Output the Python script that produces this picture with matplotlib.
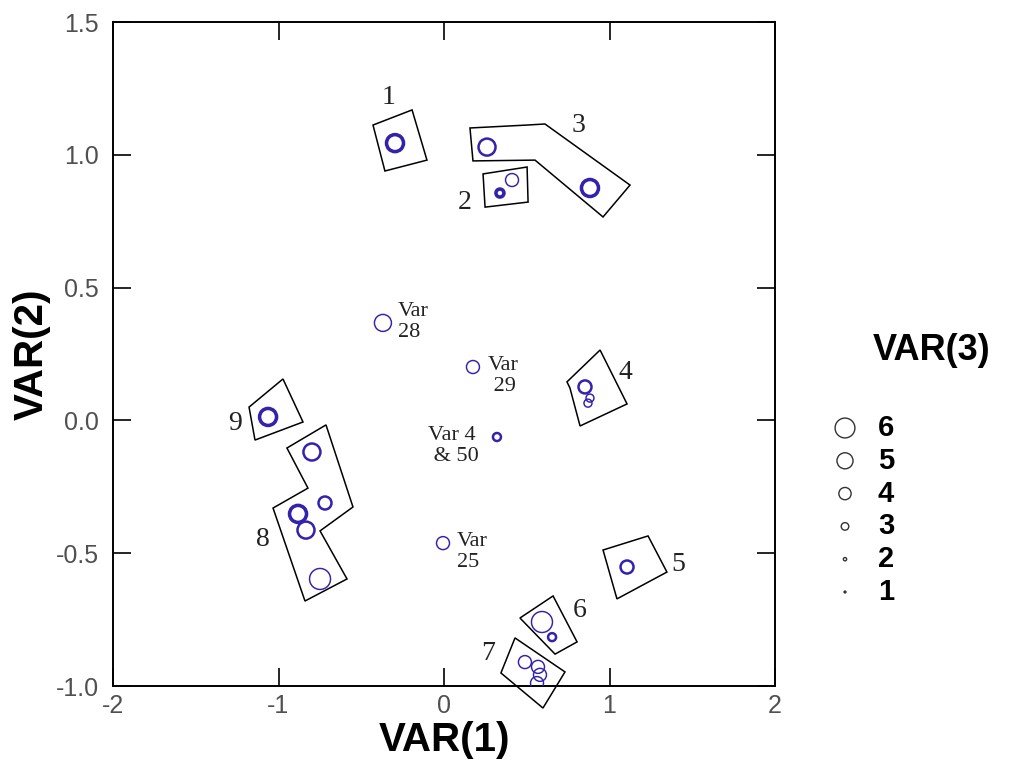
import matplotlib
matplotlib.use('Agg')
import matplotlib.pyplot as plt
from matplotlib.patches import Polygon

plt.rcParams['axes.unicode_minus'] = False

# VAR(1), VAR(2) position and VAR(3) size class of each plotted variable
var1 = [-0.296, 0.26, 0.882, 0.338, 0.411, -0.369, 0.175, 0.32, 0.852, 0.882, 0.87,
        -1.063, -0.798, -0.719, -0.882, -0.834, -0.749, -0.006, 1.106, 0.592, 0.653,
        0.489, 0.568, 0.58, 0.562]
var2 = [1.044, 1.029, 0.875, 0.856, 0.905, 0.367, 0.201, -0.0625, 0.126, 0.084, 0.065,
        0.013, -0.119, -0.311, -0.352, -0.413, -0.597, -0.462, -0.552, -0.759, -0.816,
        -0.91, -0.928, -0.958, -0.989]
var3 = [5, 5, 5, 3, 4, 5, 4, 3, 4, 3, 3,
        5, 5, 4, 5, 5, 6, 4, 4, 6, 3,
        4, 4, 4, 4]
# how many observations sit on the same spot (drawn heavier)
n_obs = [3, 2, 3, 3, 1, 1, 1, 2, 2, 1, 1,
         3, 2, 2, 3, 2, 1, 1, 2, 1, 2,
         1, 1, 1, 1]

# hand drawn group outlines
hull_1 = [(-0.429, 1.112), (-0.193, 1.169), (-0.103, 0.980), (-0.357, 0.939)]
hull_2 = [(0.236, 0.928), (0.502, 0.954), (0.508, 0.822), (0.248, 0.803)]
hull_3 = [(0.157, 1.101), (0.502, 1.112), (0.610, 1.116), (1.124, 0.886),
          (0.961, 0.766), (0.550, 0.980), (0.175, 0.977)]
hull_4 = [(0.743, 0.145), (0.943, 0.265), (1.106, 0.062), (0.822, -0.021), (0.761, 0.122)]
hull_5 = [(0.961, -0.488), (1.233, -0.435), (1.347, -0.571), (1.045, -0.672)]
hull_6 = [(0.459, -0.744), (0.659, -0.661), (0.804, -0.834), (0.671, -0.880)]
hull_7 = [(0.429, -0.819), (0.731, -0.947), (0.598, -1.083), (0.344, -0.951)]
hull_8 = [(-0.949, -0.104), (-0.713, -0.017), (-0.550, -0.326), (-0.749, -0.416),
          (-0.586, -0.597), (-0.840, -0.680), (-1.033, -0.330), (-0.822, -0.255)]
hull_9 = [(-1.178, 0.050), (-0.973, 0.156), (-0.852, -0.006), (-1.142, -0.074)]
hulls = [hull_1, hull_2, hull_3, hull_4, hull_5, hull_6, hull_7, hull_8, hull_9]

group_names = ['1', '2', '3', '4', '5', '6', '7', '8', '9']
group_x = [-0.335, 0.127, 0.81, 1.094, 1.414, 0.822, 0.266, -1.094, -1.263]
group_y = [1.214, 0.822, 1.112, 0.182, -0.544, -0.714, -0.876, -0.45, -0.01]

note_text = ['Var\n28', 'Var\n 29', 'Var 4\n & 50', 'Var\n25']
note_x = [-0.278, 0.266, -0.097, 0.079]
note_y = [0.370, 0.167, -0.096, -0.495]

legend_levels = [6, 5, 4, 3, 2, 1]

# VAR(3) class -> circle diameter in pixels
diam_px = {1: 2, 2: 3.5, 3: 8, 4: 13, 5: 17, 6: 21}
blue = '#3322aa'

fig = plt.figure(figsize=(10.13, 7.77), dpi=100)
ax = fig.add_axes([113 / 1013, 91 / 777, 662 / 1013, 664 / 777])

sizes = [(diam_px[v] * 0.72) ** 2 for v in var3]
widths = [0.3 + 0.75 * n for n in n_obs]
ax.scatter(var1, var2, s=sizes, facecolors='none', edgecolors=blue,
           linewidths=widths, zorder=3)

for hull in hulls:
    ax.add_patch(Polygon(hull, closed=True, fill=False, edgecolor='black',
                         linewidth=1.1, clip_on=False, zorder=2))

for name, gx, gy in zip(group_names, group_x, group_y):
    ax.text(gx, gy, name, family='Liberation Serif', fontsize=20,
            ha='center', va='center', color='#222222')

for txt, nx, ny in zip(note_text, note_x, note_y):
    ax.text(nx, ny, txt, family='Liberation Serif', fontsize=16,
            ha='left', va='center', linespacing=1.1, color='#222222')

ax.set_xlim(-2, 2)
ax.set_ylim(-1, 1.5)
ax.set_xticks([-2, -1, 0, 1, 2])
ax.set_yticks([-1.0, -0.5, 0.0, 0.5, 1.0, 1.5])
ax.set_yticklabels(['-1.0', '-0.5', '0.0', '0.5', '1.0', '1.5'])
ax.tick_params(direction='in', length=13, width=1.2, top=True, right=True,
               labelsize=18, labelcolor='#505050')
ax.tick_params(axis='y', pad=10)
ax.tick_params(axis='x', pad=6)
for lab in ax.get_xticklabels() + ax.get_yticklabels():
    lab.set_family('Liberation Sans')
for sp in ax.spines.values():
    sp.set_linewidth(1.4)

ax.set_xlabel('VAR(1)', family='Liberation Sans', fontsize=29,
              fontweight='bold', labelpad=2)
ax.set_ylabel('VAR(2)', family='Liberation Sans', fontsize=29,
              fontweight='bold', labelpad=4)

# size legend drawn on an overlay in pixel units
leg = fig.add_axes([0, 0, 1, 1])
leg.set_xlim(0, 1013)
leg.set_ylim(777, 0)
leg.axis('off')
leg.text(932, 350, 'VAR(3)', family='Liberation Sans', fontsize=26,
         fontweight='bold', ha='center', va='center')
for i, lev in enumerate(legend_levels):
    yy = 428 + 32.8 * i
    leg.scatter([845], [yy], s=(diam_px[lev] * 0.68) ** 2, facecolors='none',
                edgecolors='#333333', linewidths=1.0)
    leg.text(878, yy, str(lev), family='Liberation Sans', fontsize=21,
             fontweight='bold', ha='left', va='center')

fig.savefig('out.png', dpi=100)
